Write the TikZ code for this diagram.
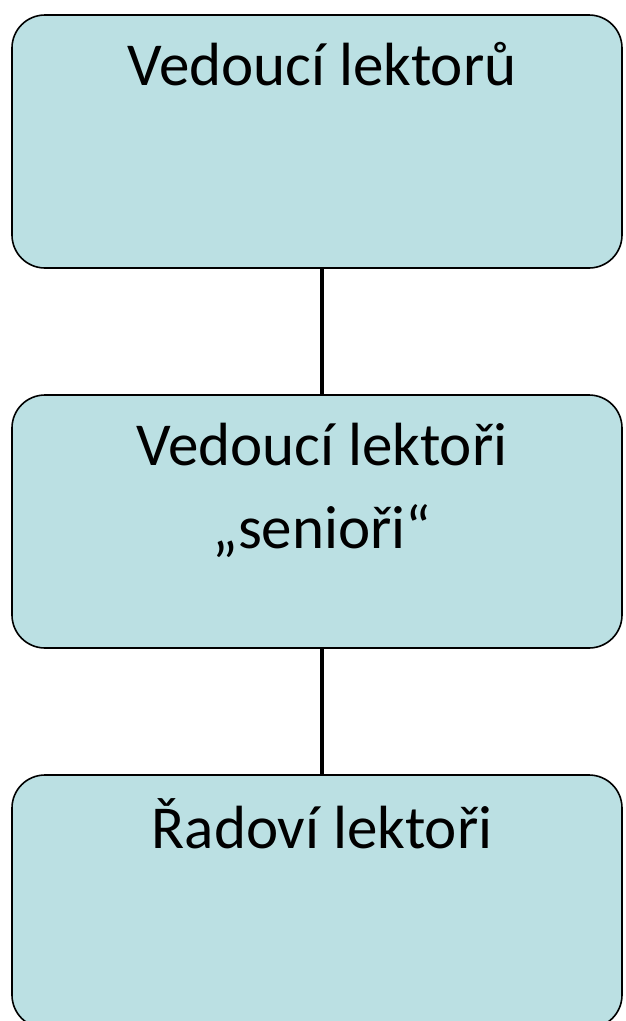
\documentclass[tikz,border=0pt]{standalone}
\usepackage{fontspec}
\setmainfont{Carlito}
\usetikzlibrary{positioning}
\definecolor{boxfill}{RGB}{187,224,227}
\tikzset{
    rankbox/.style={draw=black, line width=1.6pt, fill=boxfill, rounded corners=33pt,
        minimum width=610pt, minimum height=253pt, inner sep=0pt},
    ranktext/.style={anchor=base, align=center, font=\fontsize{61}{83}\selectfont, inner sep=0pt},
    link/.style={line width=4.5pt}
}
\begin{document}
\begin{tikzpicture}[x=1pt, y=-1pt]
    \useasboundingbox (0,0) rectangle (625,1021);
    \node[rankbox] (head) at (317,141.5) {};
    \node[rankbox] (senior) at (317,521.5) {};
    \node[rankbox] (staff) at (317,901.5) {};
    \node[ranktext] (headtext) at (322,85) {Vedoucí lektorů};
    % base anchor sits on the last line
    \node[ranktext] (seniortext) at (322,548) {Vedoucí lektoři\\„senioři“};
    \node[ranktext] (stafftext) at (322,848) {Řadoví lektoři};
    \draw[link]([xshift=5pt]head.south)--([xshift=5pt]senior.north);
    \draw[link]([xshift=5pt]senior.south)--([xshift=5pt]staff.north);
\end{tikzpicture}
\end{document}
